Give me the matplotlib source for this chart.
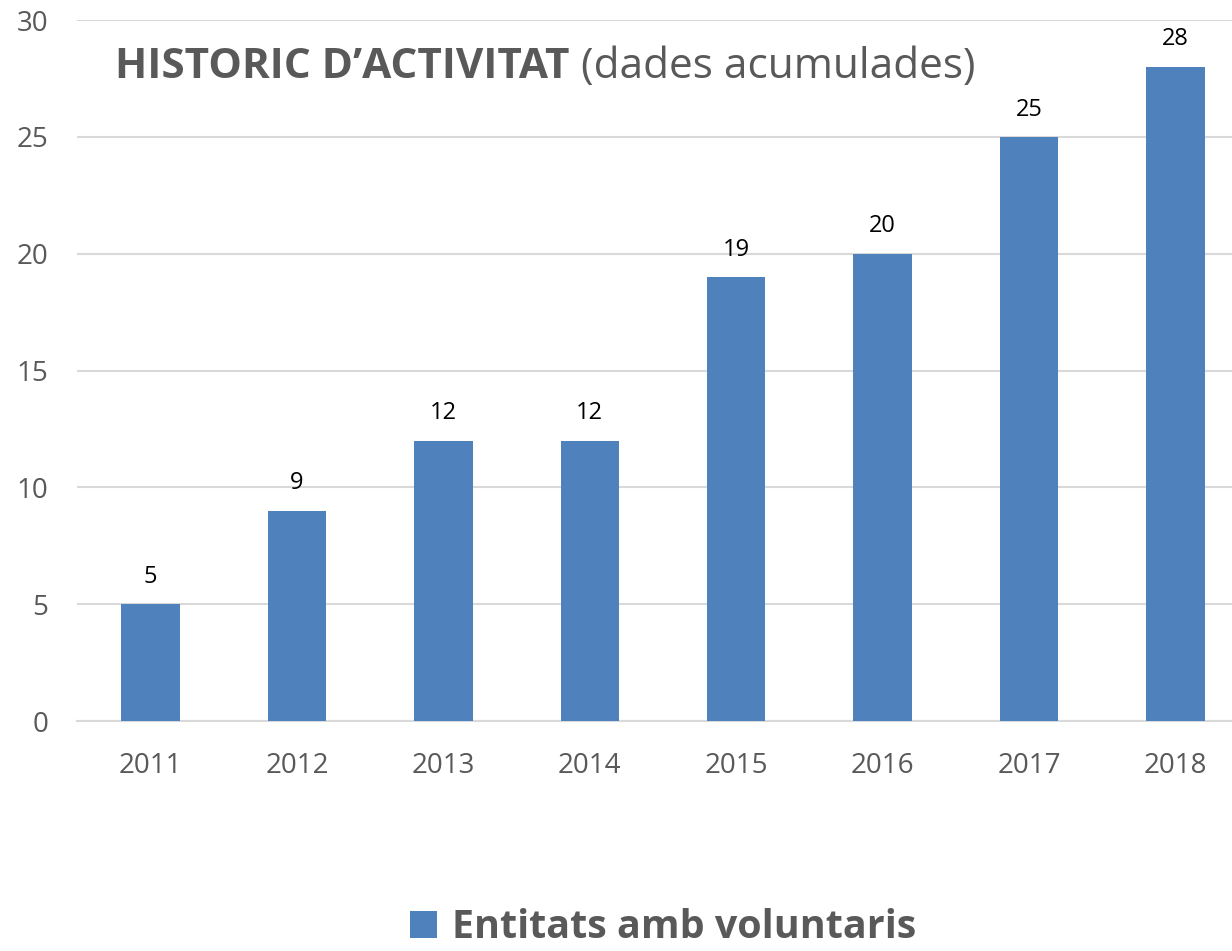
import matplotlib

matplotlib.use("Agg")
import matplotlib.pyplot as plt
from matplotlib.patches import Patch

years = ["2011", "2012", "2013", "2014", "2015", "2016", "2017", "2018"]
entitats = [5, 9, 12, 12, 19, 20, 25, 28]
y_ticks = [0, 5, 10, 15, 20, 25, 30]
series_name = "Entitats amb voluntaris"

BLUE = "#4f81bd"
GREY = "#595959"
GRID = "#d9d9d9"

plt.rcParams["font.family"] = ["Open Sans", "DejaVu Sans"]

fig = plt.figure(figsize=(12.32, 9.51), dpi=100)
ax = fig.add_axes([77.3 / 1232, 230 / 951, 1171.4 / 1232, 701 / 951])

x = list(range(len(years)))
bars = ax.bar(x, entitats, width=0.4, color=BLUE, zorder=3, label=series_name)
ax.bar_label(bars, labels=[str(v) for v in entitats], padding=11, fontsize=17, color="black")

ax.set_xlim(-0.5, len(years) - 0.5)
ax.set_ylim(0, 30)
ax.set_yticks(y_ticks)
ax.set_xticks(x, years)
ax.grid(axis="y", color=GRID, linewidth=1.5, zorder=0)
ax.set_axisbelow(True)
for side in ("top", "right", "left"):
    ax.spines[side].set_visible(False)
ax.spines["bottom"].set_color(GRID)
ax.spines["bottom"].set_linewidth(1.5)
ax.tick_params(axis="both", length=0, labelsize=20, labelcolor=GREY)
ax.tick_params(axis="y", pad=21)
ax.tick_params(axis="x", pad=22)

# title: bold part followed by regular part
t1 = fig.text(115 / 1232, 1 - 78 / 951, "HISTORIC D\u2019ACTIVITAT", fontsize=30.4,
              fontweight="bold", color=GREY, ha="left", va="baseline")
fig.canvas.draw()
bb = t1.get_window_extent()
fig.text(bb.x1 / fig.bbox.width, 1 - 78 / 951, " (dades acumulades)", fontsize=30.4,
         color=GREY, ha="left", va="baseline")

fig.legend(handles=[Patch(facecolor=BLUE, label=series_name)], loc="lower left",
           bbox_to_anchor=(390 / 1232, -16 / 951), frameon=False, borderpad=0,
           handlelength=0.68, handleheight=0.68, handletextpad=0.4,
           prop={"size": 28.4, "weight": "bold"}, labelcolor=GREY)

fig.savefig("out.png", facecolor="white")
